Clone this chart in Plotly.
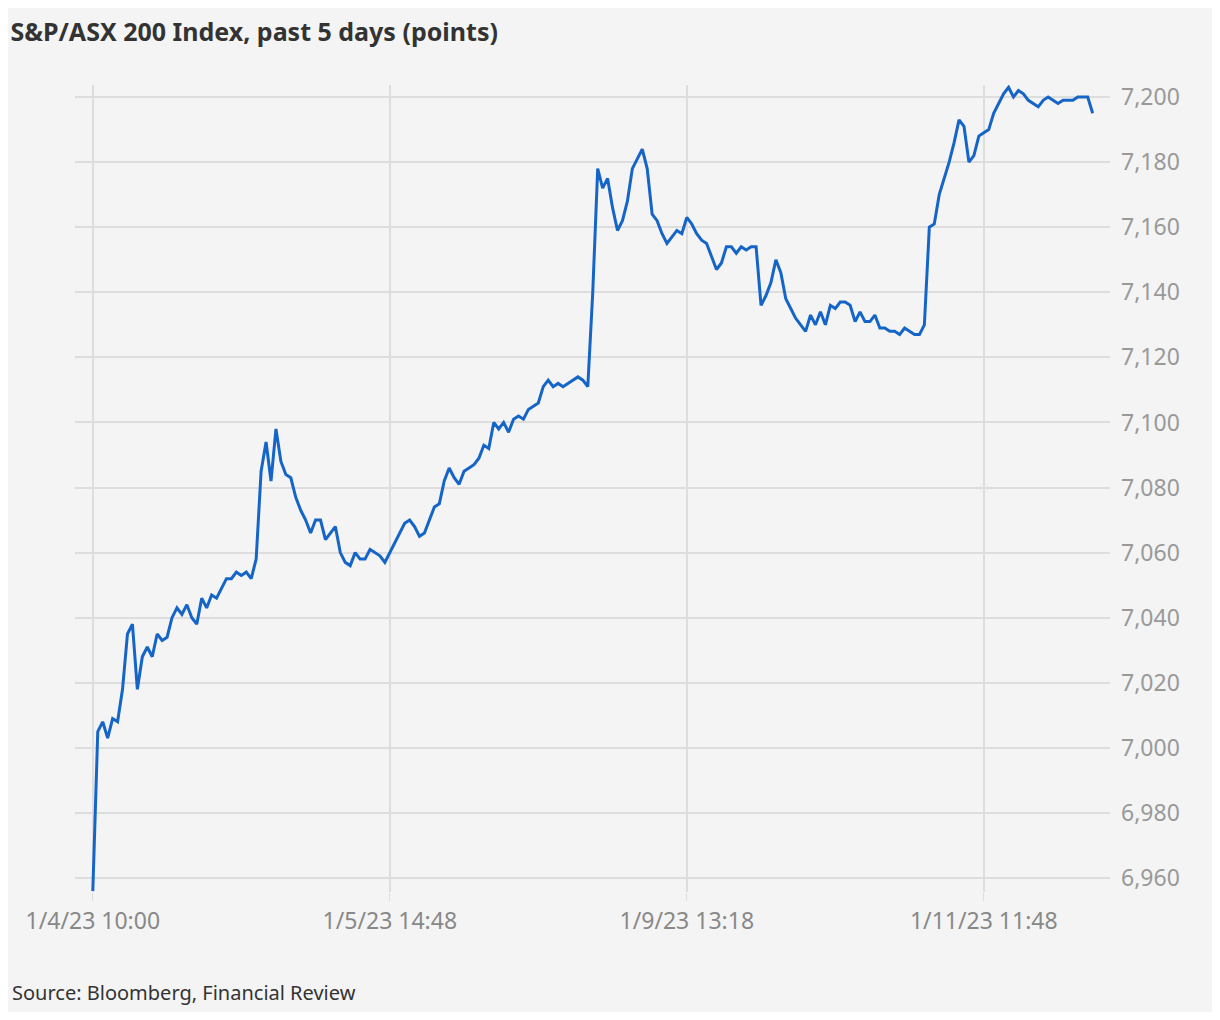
import plotly.graph_objects as go

values = [6956,7005,7008,7003,7009,7008,7018,7035,7038,7018,7028,7031,7028,7035,7033,7034,7040,7043,7041,7044,
7040,7038,7046,7043,7047,7046,7049,7052,7052,7054,7053,7054,7052,7058,7085,7094,7082,7098,7088,7084,
7083,7077,7073,7070,7066,7070,7070,7064,7066,7068,7060,7057,7056,7060,7058,7058,7061,7060,7059,7057,
7060,7063,7066,7069,7070,7068,7065,7066,7070,7074,7075,7082,7086,7083,7081,7085,7086,7087,7089,7093,
7092,7100,7098,7100,7097,7101,7102,7101,7104,7105,7106,7111,7113,7111,7112,7111,7112,7113,7114,7113,
7111,7140,7178,7172,7175,7166,7159,7162,7168,7178,7181,7184,7178,7164,7162,7158,7155,7157,7159,7158,
7163,7161,7158,7156,7155,7151,7147,7149,7154,7154,7152,7154,7153,7154,7154,7136,7139,7143,7150,7146,
7138,7135,7132,7130,7128,7133,7130,7134,7130,7136,7135,7137,7137,7136,7131,7134,7131,7131,7133,7129,
7129,7128,7128,7127,7129,7128,7127,7127,7130,7160,7161,7170,7175,7180,7186,7193,7191,7180,7182,7188,
7189,7190,7195,7198,7201,7203,7200,7202,7201,7199,7198,7197,7199,7200,7199,7198,7199,7199,7199,7200,
7200,7200,7195]
x = list(range(len(values)))
tick_idx = [0, 60, 120, 180]
tick_labels = ["1/4/23 10:00", "1/5/23 14:48", "1/9/23 13:18", "1/11/23 11:48"]
y_ticks = list(range(6960, 7201, 20))

fig = go.Figure(go.Scatter(x=x, y=values, mode="lines",
                           line=dict(color="#1565c8", width=3), hoverinfo="skip"))
fig.update_layout(
    width=1204, height=1004, paper_bgcolor="#f4f4f4", plot_bgcolor="#f4f4f4",
    margin=dict(l=67, r=102, t=77, b=120),
    font=dict(family="Noto Sans", color="#999999"),
    showlegend=False,
    title=dict(text="<b>S&P/ASX 200 Index, past 5 days (points)</b>", x=0.002, xanchor="left",
               y=0.976, yanchor="middle", font=dict(size=25, color="#333333")),
    annotations=[dict(text="Source: Bloomberg, Financial Review", xref="paper", yref="paper",
                      x=-0.063, y=-0.125, xanchor="left", yanchor="middle", showarrow=False,
                      font=dict(size=20, color="#333333"))],
)
fig.update_xaxes(range=[-3.6, 205.5], tickvals=tick_idx, ticktext=tick_labels,
                 showgrid=True, gridcolor="#dddddd", gridwidth=1.5, zeroline=False,
                 ticks="outside", ticklen=8, tickcolor="#dddddd",
                 tickfont=dict(size=23, color="#888888"))
fig.update_yaxes(range=[6955.7, 7203.7], side="right", tickvals=y_ticks,
                 tickformat=",", showgrid=True, gridcolor="#dddddd", gridwidth=1.5,
                 zeroline=False, tickfont=dict(size=23, color="#999999"), ticklabelstandoff=10)
fig.write_html("out.html")
